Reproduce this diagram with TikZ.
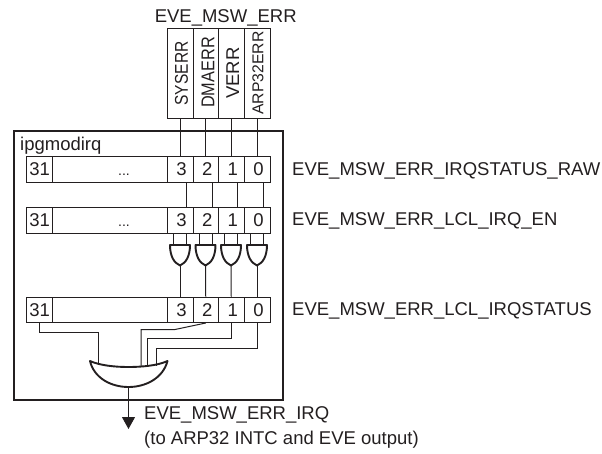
\documentclass[tikz,border=0pt]{standalone}
\usepackage{fontspec}
\usepackage{graphicx}
\setmainfont{Liberation Sans}
\usetikzlibrary{calc,arrows.meta}
\definecolor{ink}{HTML}{231F20}
\tikzset{
  x=1pt,y=-1pt,
  cell/.style={draw=ink,line width=1pt,inner sep=0pt,minimum height=25.5pt,font=\fontsize{18.5}{18.5}\selectfont,text=ink},
  wire/.style={draw=ink,line width=1pt},
  gate/.style={draw=ink,line width=1.9pt,line join=round},
  label/.style={inner sep=0pt,anchor=base west,text=ink,font=\fontsize{18.5}{18.5}\selectfont},
  vtext/.style={rotate=90,inner sep=0pt,text=ink,font=\fontsize{18.5}{18.5}\selectfont},
}
\newcommand{\bitt}[1]{\hspace*{3pt}#1}
\newcommand{\regrow}[2]{% prefix, y-centre
  \node[cell,minimum width=26pt] (#1w) at (39,#2) {\hspace*{1.5pt}31};
  \node[cell,minimum width=115pt] (#1d) at (109.5,#2) {};
  \node[cell,minimum width=26pt] (#1c3) at (180,#2) {\bitt{3}};
  \node[cell,minimum width=25.5pt] (#1c2) at (205.75,#2) {\bitt{2}};
  \node[cell,minimum width=25.5pt] (#1c1) at (231.25,#2) {\bitt{1}};
  \node[cell,minimum width=26pt] (#1c0) at (257,#2) {\bitt{0}};
}
\newcommand{\andgate}[2]{% name, x-centre
  \coordinate (#1tl) at (#2-10,245);
  \coordinate (#1tr) at (#2+10,245);
  \coordinate (#1o) at (#2,265.5);
  \coordinate (#1i) at (#2-6.5,245);
  \coordinate (#1j) at (#2+6.5,245);
  \draw[gate] (#1tl) -- (#1tr) .. controls (#2+10,256) and (#2+6,263) .. (#1o)
     .. controls (#2-6,263) and (#2-10,256) .. (#1tl) -- cycle;
}
\begin{document}
\begin{tikzpicture}
\useasboundingbox (0,0) rectangle (602,453);
\node[draw=ink,line width=2pt,minimum width=269pt,minimum height=269pt,inner sep=0pt] (frame) at (148,265) {};
\node[label] (name) at (20,150) {ipgmodirq};
% top register
\node[label,anchor=base] (title) at (225.7,22) {EVE\_MSW\_ERR};
\node[cell,minimum width=26pt,minimum height=90pt] (t3) at (180,73) {};
\node[cell,minimum width=25.5pt,minimum height=90pt] (t2) at (205.75,73) {};
\node[cell,minimum width=25.5pt,minimum height=90pt] (t1) at (231.25,73) {};
\node[cell,minimum width=26pt,minimum height=90pt] (t0) at (257,73) {};
\node[vtext] (l3) at (181.5,73.5) {\scalebox{0.84}[1]{SYSERR}};
\node[vtext] (l2) at (208,72.5) {\scalebox{0.88}[1]{DMAERR}};
\node[vtext] (l1) at (232.8,73) {VERR};
\node[vtext] (l0) at (258,73) {\scalebox{0.85}[0.85]{ARP32ERR}};
% registers
\regrow{a}{169.25}
\regrow{b}{220.25}
\regrow{c}{309.75}
\node[label,anchor=base,font=\fontsize{14}{14}\selectfont] (adots) at (124,175) {...};
\node[label,anchor=base,font=\fontsize{14}{14}\selectfont] (bdots) at (124,226) {...};
\node[label] (la) at (292,175) {EVE\_MSW\_ERR\_IRQSTATUS\_RAW};
\node[label] (lb) at (292,225.5) {EVE\_MSW\_ERR\_LCL\_IRQ\_EN};
\node[label] (lc) at (292,315) {EVE\_MSW\_ERR\_LCL\_IRQSTATUS};
\node[label] (lo) at (144,419.5) {EVE\_MSW\_ERR\_IRQ};
\node[label] (lo2) at (144,444) {(to ARP32 INTC and EVE output)};
% wires top -> reg a
\foreach \i in {0,1,2,3} \draw[wire] (t\i.south) -- (ac\i.north);
% reg a -> reg b (offset to the right of the bit centre)
\foreach \i in {0,1,2,3} \draw[wire] ($(ac\i.south)+(6.25,0)$) -- ($(bc\i.north)+(6.25,0)$);
% AND gates
\andgate{g3}{180}
\andgate{g2}{205.5}
\andgate{g1}{231}
\andgate{g0}{257}
\foreach \i in {0,1,2,3} {
  \draw[wire] (g\i i) -- (g\i i |- bc\i.south);
  \draw[wire] (g\i j) -- (g\i j |- bc\i.south);
  \draw[wire] (g\i o) -- (cc\i.north);
}
% OR gate
\coordinate (ortl) at (90,361);
\coordinate (ortr) at (167.5,361);
\coordinate (orb) at (128.5,387);
\coordinate (orm) at (128.5,367);
\draw[wire] (cw.south) |- (98.5,332) -- (98.5,365) coordinate (or31);
\draw[wire] (cc2.south) -- (175,329.5) -- (141,329.5) -- (141,366.5) coordinate (or2);
\draw[wire] (cc1.south) |- (147.5,338) -- (147.5,366) coordinate (or1);
\draw[wire] (cc0.south) |- (156,348) -- (156,365.5) coordinate (or0);
\draw[gate] (ortl) .. controls (100,365.5) and (115,367) .. (orm)
  .. controls (142,367) and (158,365.5) .. (ortr)
  .. controls (163,378) and (146,387) .. (orb)
  .. controls (111,387) and (94,378) .. (ortl) -- cycle;
\coordinate (tip) at (128.5,429);
\draw[wire,-{Triangle[length=12pt,width=13pt]}] (orb) -- (tip);
\end{tikzpicture}
\end{document}
